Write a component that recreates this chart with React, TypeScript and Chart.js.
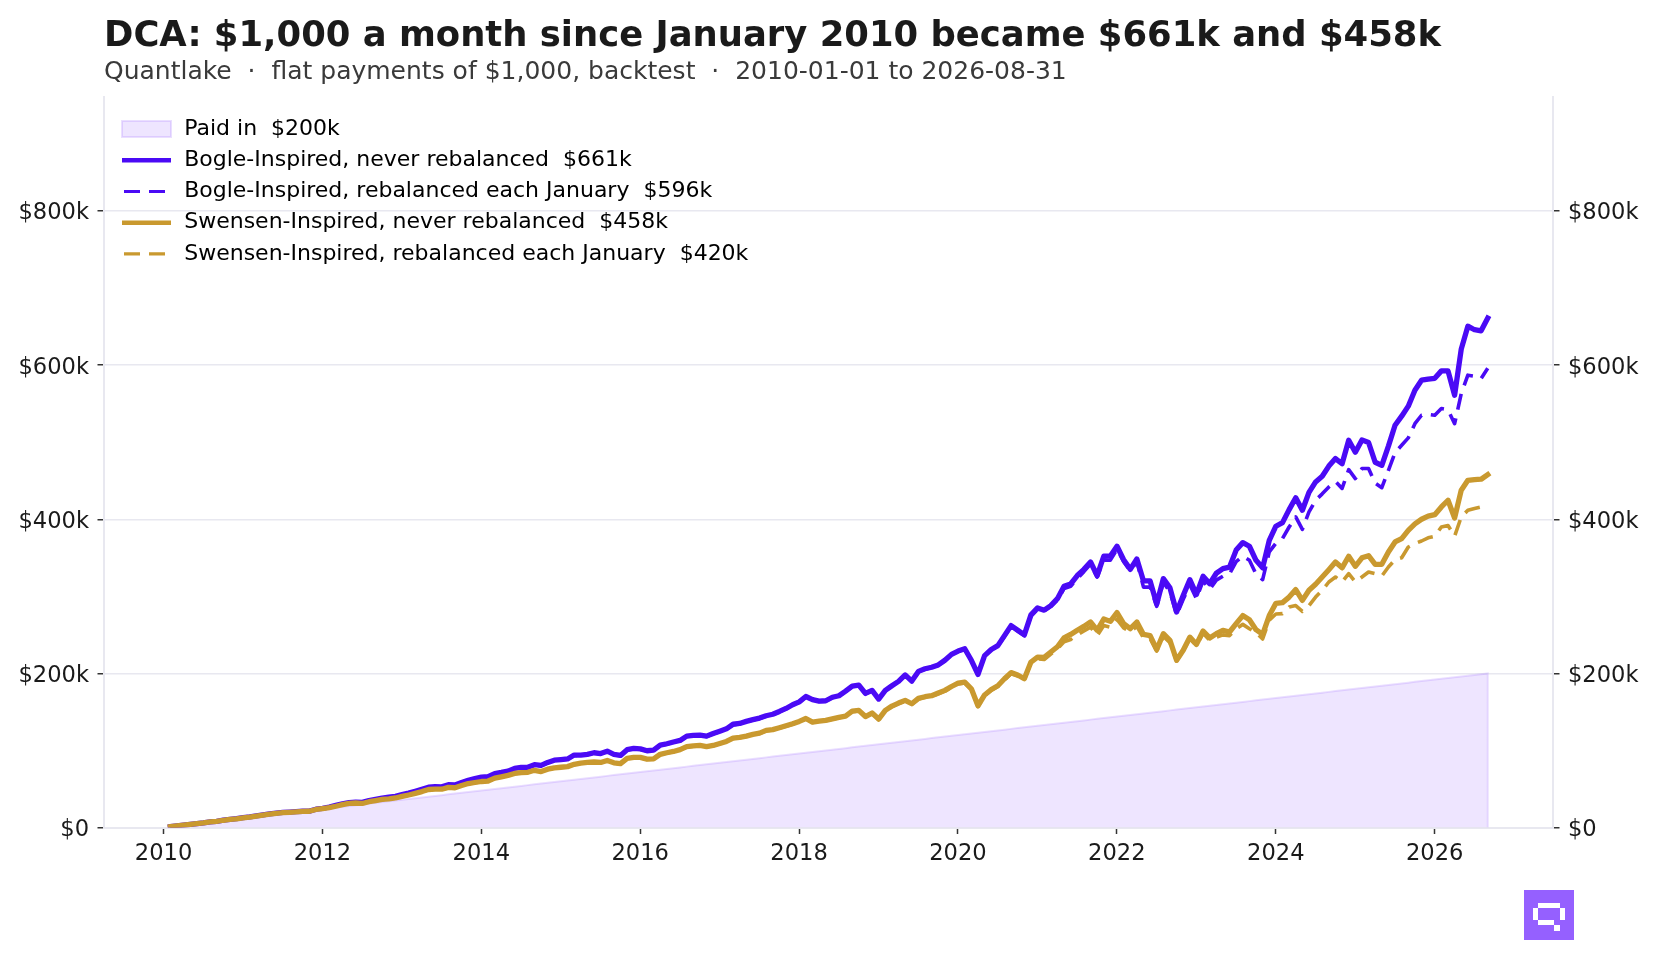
import React, { useEffect, useRef } from "react"
import { Chart, registerables } from "chart.js"

Chart.register(...registerables)

// all values in $k, one per month from 2010-01 to 2026-08
const paidIn = [
  1, 2, 3, 4, 5, 6, 7, 8, 9, 10, 11, 12, 13, 14, 15, 16, 17, 18, 19, 20, 21, 22, 23, 24, 25, 26, 27, 28, 29, 30, 31, 32, 33, 34, 35, 36, 37, 38, 39, 40,
  41, 42, 43, 44, 45, 46, 47, 48, 49, 50, 51, 52, 53, 54, 55, 56, 57, 58, 59, 60, 61, 62, 63, 64, 65, 66, 67, 68, 69, 70, 71, 72, 73, 74, 75, 76, 77, 78, 79, 80,
  81, 82, 83, 84, 85, 86, 87, 88, 89, 90, 91, 92, 93, 94, 95, 96, 97, 98, 99, 100, 101, 102, 103, 104, 105, 106, 107, 108, 109, 110, 111, 112, 113, 114, 115, 116, 117, 118, 119, 120,
  121, 122, 123, 124, 125, 126, 127, 128, 129, 130, 131, 132, 133, 134, 135, 136, 137, 138, 139, 140, 141, 142, 143, 144, 145, 146, 147, 148, 149, 150, 151, 152, 153, 154, 155, 156, 157, 158, 159, 160,
  161, 162, 163, 164, 165, 166, 167, 168, 169, 170, 171, 172, 173, 174, 175, 176, 177, 178, 179, 180, 181, 182, 183, 184, 185, 186, 187, 188, 189, 190, 191, 192, 193, 194, 195, 196, 197, 198, 199, 200,
]

const bogleNever = [
  1, 2.1, 3.2, 4.2, 5, 6, 7.2, 8, 9.5, 10.6, 11.5, 12.8,
  13.7, 15, 16.4, 17.6, 18.6, 19.5, 20, 20.6, 21.1, 21.3, 23.7, 24.9,
  26.6, 28.7, 30.8, 32.4, 33, 32.6, 34.9, 36.5, 38.2, 39.3, 40.4, 42.6,
  44.6, 47, 49.6, 52.3, 53, 52.8, 55.6, 55.2, 58.4, 61.2, 63.4, 65.3,
  66, 70, 71.5, 73.2, 76.7, 78, 78.2, 81.5, 80.6, 84.5, 87.4, 88.2,
  89, 94, 94, 95, 97, 96, 99, 95, 93.5, 101, 102.6, 102,
  99.6, 100.5, 107, 108.7, 111, 113, 118.6, 119.5, 120, 118.6, 122, 125,
  128, 134, 135, 137.7, 140, 142, 145, 147, 150.6, 154.5, 159.3, 163,
  170, 166, 164, 164.5, 169, 171, 177, 183.5, 184.8, 174, 178, 166.7,
  178, 184, 189.6, 198, 190, 202.6, 206, 208, 211, 217, 224.7, 229,
  232, 217, 198.7, 223, 231, 236, 249, 262, 256, 250, 276, 285,
  282, 288, 297, 313, 316, 327, 335, 344.6, 327, 352, 352.4, 365,
  347.6, 335, 348.5, 320, 320, 290, 323, 311, 279.6, 301, 321.6, 302.6,
  326, 316.5, 330, 336, 338, 360, 369.7, 365, 346.8, 337, 372.7, 391,
  395.7, 412.5, 428, 411.7, 435, 448.5, 455.8, 469, 478.8, 472, 502.6, 487,
  503, 499.6, 474, 470, 495, 522, 533.8, 546.8, 567.5, 580.5, 582, 583,
  592.6, 592.6, 561, 620.8, 650.6, 646, 644.6, 661,
]

const bogleRebal = [
  1, 2.1, 3.2, 4.2, 5, 6, 7.2, 8, 9.5, 10.6, 11.5, 12.8,
  13.7, 15, 16.4, 17.6, 18.5, 19.4, 19.9, 20.5, 21, 21.2, 23.6, 24.8,
  26.5, 28.6, 30.7, 32.2, 32.8, 32.4, 34.7, 36.3, 38, 39.1, 40.2, 42.4,
  44.4, 46.8, 49.4, 52, 52.7, 52.5, 55.3, 54.9, 58.1, 60.9, 63, 64.9,
  65.7, 69.7, 71.2, 72.9, 76.3, 77.6, 77.8, 81.1, 80.2, 84, 87, 87.8,
  88.7, 93.6, 93.6, 94.6, 96.6, 95.6, 98.6, 94.6, 93.1, 100.6, 102.2, 101.6,
  99.2, 100.1, 106.5, 108.2, 110.5, 112.5, 118, 119, 119.5, 118.1, 121.5, 124.5,
  127.5, 133.5, 134.5, 137.2, 139.5, 141.5, 144.5, 146.5, 150, 154, 158.8, 162.5,
  169.5, 165.5, 163.5, 164, 168.5, 170.5, 176.5, 183, 184.2, 173.5, 177.5, 166.2,
  177.5, 183.5, 189, 197.5, 189.5, 202, 205.5, 207.5, 210.5, 216.5, 224, 228.5,
  231.5, 216.5, 198.2, 222.5, 230.5, 235.5, 248, 261, 255, 249, 274, 283,
  281, 287, 295, 310, 313, 323, 332, 342, 325, 347, 347, 361,
  345, 333, 345, 312, 312, 287, 318, 306, 276, 296, 315, 297,
  320, 309, 321, 326, 329, 345, 352, 346.8, 329, 321.6, 357.6, 369,
  375, 390, 403, 387, 409.5, 424.7, 433, 442, 449, 440, 464.5, 452.8,
  465.8, 465.8, 447, 441, 463.6, 486.6, 496, 505.6, 524, 535, 536, 535,
  543.7, 542, 524, 563, 587, 585.7, 582.7, 596,
]

const swensenNever = [
  1, 2.1, 3.2, 4.2, 5, 5.9, 7.2, 7.9, 9.4, 10.5, 11.3, 12.6,
  13.4, 14.8, 16.2, 17.4, 18.3, 19.2, 19.7, 20.3, 21, 21.1, 23.4, 24.5,
  25.7, 27.6, 29.6, 31.2, 31.8, 31.2, 33.5, 35, 36.4, 37.2, 38.3, 40.3,
  42.2, 44.3, 46.6, 49.3, 49.8, 49.7, 52, 51.6, 54.5, 57, 58.4, 59.7,
  60.3, 64, 65.8, 67.6, 70.1, 71.3, 71.6, 74.2, 72.6, 75.7, 77.5, 78.2,
  79, 82, 83.5, 84.4, 85, 84.4, 87, 84, 83, 89.6, 91, 91,
  88.7, 89, 95, 97, 98.7, 101, 105, 106, 106.5, 105, 106.5, 109,
  111.7, 116, 117, 118.6, 120.8, 122.5, 126, 127, 129.4, 132, 134.6, 137.7,
  141.5, 136.8, 138, 139, 141, 143, 144.6, 151, 152, 144, 148.5, 140.7,
  152, 157.6, 161.5, 165, 160.6, 167.5, 169.7, 171, 174.5, 178, 183, 187.4,
  188.7, 180, 158, 172, 179, 184, 193, 201, 198, 193, 214.7, 221,
  220.8, 227.7, 234.6, 246, 250.6, 256, 261, 266.7, 256, 270.6, 267.5, 278.8,
  264.5, 258, 266.7, 250.6, 249, 231, 251.5, 242.9, 217, 230, 247, 237.7,
  255, 246, 251.5, 255.8, 253.7, 264.5, 275, 269.7, 256.7, 250.6, 275, 291,
  291.8, 299, 308.7, 294.8, 307.8, 315.6, 325, 334.6, 344.6, 337, 352, 339,
  350, 352.8, 341.6, 341.6, 357.6, 370.6, 375, 385.7, 394, 400, 404, 406,
  416, 424.7, 401.7, 437.7, 450.6, 451.5, 452, 458,
]

const swensenRebal = [
  1, 2.1, 3.2, 4.2, 5, 5.9, 7.2, 7.9, 9.4, 10.5, 11.3, 12.6,
  13.4, 14.8, 16.2, 17.4, 18.3, 19.1, 19.6, 20.2, 20.9, 21, 23.3, 24.4,
  25.6, 27.5, 29.5, 31, 31.6, 31, 33.3, 34.8, 36.2, 37, 38.1, 40.1,
  42, 44.1, 46.4, 49, 49.5, 49.4, 51.7, 51.3, 54.2, 56.7, 58.1, 59.4,
  60, 63.7, 65.5, 67.3, 69.8, 71, 71.3, 73.9, 72.3, 75.4, 77.2, 77.9,
  78.7, 81.7, 83.2, 84, 84.6, 84, 86.6, 83.6, 82.6, 89.2, 90.6, 90.6,
  88.3, 88.6, 94.6, 96.6, 98.3, 100.6, 104.6, 105.6, 106, 104.6, 106, 108.5,
  111.2, 115.5, 116.5, 118, 120.3, 122, 125.5, 126.5, 128.9, 131.5, 134, 137,
  141, 136.2, 137.4, 138.4, 140.4, 142.4, 144, 150.4, 151.4, 143.4, 147.9, 140,
  151.2, 156.8, 160.7, 164, 159.8, 166.7, 168.9, 170.2, 173.6, 177, 182, 186.4,
  187.7, 179, 157, 171, 178, 183, 191.5, 199.5, 196.5, 191.5, 214, 219,
  218, 225, 232, 241, 244, 250, 255, 260, 249, 262, 260, 270,
  259, 254, 261, 246, 245, 229, 248, 240, 216, 229, 245, 236,
  252, 243, 247, 250, 249, 258, 263.6, 258, 253, 244.6, 269, 277,
  277.5, 286, 288, 280.5, 288, 299, 307.8, 318.6, 325, 318.6, 329.4, 318.6,
  325, 331.6, 329.4, 326.4, 338, 347.6, 350, 364, 368.4, 371.8, 376, 378,
  390, 392, 378, 403, 411.7, 414, 416, 420,
]

const xTicks = [2010, 2012, 2014, 2016, 2018, 2020, 2022, 2024, 2026]
const yTicks = [0, 200, 400, 600, 800]

const seriesNames = [
  "Paid in  $200k",
  "Bogle-Inspired, never rebalanced  $661k",
  "Bogle-Inspired, rebalanced each January  $596k",
  "Swensen-Inspired, never rebalanced  $458k",
  "Swensen-Inspired, rebalanced each January  $420k",
]

const titleText = "DCA: $1,000 a month since January 2010 became $661k and $458k"
const subtitleText = "Quantlake  \u00b7  flat payments of $1,000, backtest  \u00b7  2010-01-01 to 2026-08-31"

const PURPLE = "#4a0af5"
const GOLD = "#c9992f"
const GRID = "#e8e8f0"
const INK = "#1a1a1a"
const FONT = "'DejaVu Sans'"

const points = (values: number[]) => values.map((y, i) => ({ x: 2010.085 + i / 12, y }))

export default function App() {
  const ref = useRef<HTMLCanvasElement>(null)

  useEffect(() => {
    if (!ref.current) return
    const paidPoints = points(paidIn)
    // close the shape down the right side, the reference has an edge there
    paidPoints.push({ x: paidPoints[paidPoints.length - 1].x, y: 0 })

    const line = (i: number, values: number[], color: string, dashed: boolean) => ({
      label: seriesNames[i],
      data: points(values),
      borderColor: color,
      backgroundColor: color,
      borderWidth: dashed ? 3.6 : 5.3,
      borderDash: dashed ? [16, 9] : [],
      borderCapStyle: dashed ? "butt" : "square",
      borderJoinStyle: "round",
      pointRadius: 0,
      tension: 0,
      fill: false,
      order: 5 - i,
    })

    const axisFont = { family: FONT, size: 22.6 }
    const yAxis = (position: string, width: number, onChart: boolean) => ({
      type: "linear",
      position,
      min: 0,
      max: 948,
      afterBuildTicks: (s: any) => {
        s.ticks = yTicks.map((value) => ({ value }))
      },
      afterFit: (s: any) => {
        s.width = width
      },
      border: { display: true, color: GRID, width: 2 },
      grid: {
        color: GRID,
        lineWidth: 1.5,
        drawOnChartArea: onChart,
        drawTicks: true,
        tickLength: 6.5,
        tickColor: "#333",
        tickWidth: 1.5,
      },
      ticks: {
        color: INK,
        font: axisFont,
        padding: 8.5,
        labelOffset: 2.5,
        callback: (v: any) => "$" + v + (v === 0 ? "" : "k"),
      },
    })

    const chart = new Chart(ref.current, {
      type: "line",
      data: {
        datasets: [
          {
            label: seriesNames[0],
            data: paidPoints,
            borderColor: "rgba(149, 96, 255, 0.2)",
            backgroundColor: "rgba(149, 96, 255, 0.16)",
            borderWidth: 2,
            pointRadius: 0,
            tension: 0,
            fill: "origin",
            order: 5,
          },
          line(1, bogleNever, PURPLE, false),
          line(2, bogleRebal, PURPLE, true),
          line(3, swensenNever, GOLD, false),
          line(4, swensenRebal, GOLD, true),
        ] as any,
      },
      options: {
        animation: false,
        responsive: false,
        layout: { padding: 0 },
        scales: {
          x: {
            type: "linear",
            min: 2009.25,
            max: 2027.49,
            afterBuildTicks: (s: any) => {
              s.ticks = xTicks.map((value) => ({ value }))
            },
            afterFit: (s: any) => {
              s.height = 138.5
            },
            border: { display: true, color: GRID, width: 2 },
            grid: {
              drawOnChartArea: false,
              drawTicks: true,
              tickLength: 6.5,
              tickColor: "#333",
              tickWidth: 1.5,
            },
            ticks: {
              color: INK,
              font: axisFont,
              padding: 6.5,
              autoSkip: false,
              maxRotation: 0,
              callback: (v: any) => String(v),
            },
          },
          y: yAxis("left", 104, true),
          yRight: yAxis("right", 103, false),
        } as any,
        plugins: {
          title: {
            display: true,
            text: titleText,
            align: "start",
            fullSize: false,
            color: INK,
            font: { family: FONT, size: 35.4, weight: "bold", lineHeight: 1.15 },
            padding: { top: 16.25, bottom: 0.25 },
          },
          subtitle: {
            display: true,
            text: subtitleText,
            align: "start",
            fullSize: false,
            color: "#3a3a3a",
            font: { family: FONT, size: 25, weight: "normal", lineHeight: 1.2 },
            padding: { top: 0, bottom: 9.8 },
          },
          legend: {
            position: "chartArea",
            align: "start",
            labels: {
              color: INK,
              font: { family: FONT, size: 22, lineHeight: 1.2 },
              padding: 9.2,
              usePointStyle: true,
              pointStyleWidth: 49,
              boxHeight: 16,
              generateLabels: (c: any) =>
                c.data.datasets.map((d: any, i: number) => ({
                  // hair space: the gap after the handle is wider than the library's
                  text: "\u200a" + d.label,
                  fillStyle: i === 0 ? d.backgroundColor : d.borderColor,
                  strokeStyle: d.borderColor,
                  // handles are a little thinner than the lines in the plot
                  lineWidth: i === 0 ? 2 : d.borderDash.length ? 3.2 : 4.6,
                  lineDash: d.borderDash || [],
                  lineDashOffset: -2,
                  lineCap: "butt",
                  pointStyle: i === 0 ? "rect" : "line",
                  datasetIndex: i,
                })),
            },
          },
          tooltip: { enabled: false },
        },
      } as any,
      plugins: [
        {
          id: "legendPlace",
          beforeDraw: (c: any) => {
            c.legend.left = 112.8
            c.legend.top = 108.9
          },
        },
      ],
    })

    return () => {
      chart.destroy()
    }
  }, [])

  return (
    <div style={{ position: "fixed", left: 0, top: 0, width: 1656, height: 966, background: "#fff" }}>
      <canvas ref={ref} width={1656} height={966} style={{ display: "block" }} />
      <svg
        style={{ position: "absolute", left: 1524, top: 890 }}
        width={50}
        height={50}
        viewBox="0 0 50 50"
        shapeRendering="crispEdges"
      >
        <rect width={50} height={50} fill="#9560ff" />
        <rect x={14} y={13} width={22} height={5} fill="#fff" />
        <rect x={9} y={18} width={5} height={12} fill="#fff" />
        <rect x={36} y={18} width={5} height={12} fill="#fff" />
        <rect x={14} y={30} width={16} height={5} fill="#fff" />
        <rect x={30} y={35} width={6} height={6} fill="#fff" />
      </svg>
    </div>
  )
}
